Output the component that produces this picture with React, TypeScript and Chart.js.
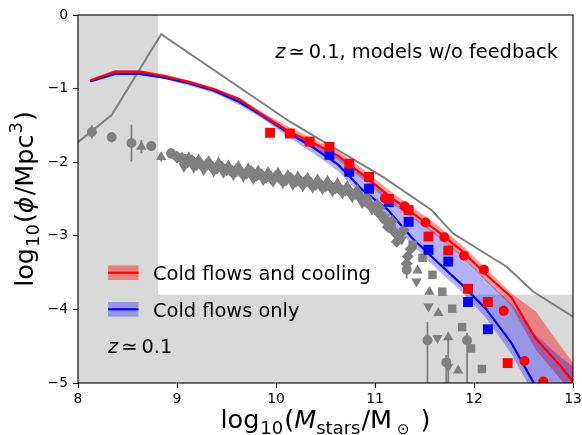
import React, { useEffect, useRef } from 'react';
import { Chart, registerables } from 'chart.js';

Chart.register(...registerables);

const FONT = "'DejaVu Sans', 'Liberation Sans', sans-serif";

// axis ticks
const xTicks = [8, 9, 10, 11, 12, 13];
const yTicks = [0, -1, -2, -3, -4, -5];

// shaded (incomplete) regions
const shadeMassLimit = 8.81;
const shadePhiLimit = -3.8;

// model bins
const binMass = [8.125, 8.375, 8.625, 8.875, 9.125, 9.375, 9.625, 9.875, 10.125, 10.375, 10.625, 10.875, 11.125, 11.375, 11.625, 11.875, 12.125, 12.375, 12.625, 12.875, 13.125];

// Cold flows and cooling (red)
const coolLine = [-0.89, -0.77, -0.77, -0.83, -0.91, -1.01, -1.14, -1.37, -1.58, -1.74, -1.91, -2.17, -2.44, -2.69, -2.93, -3.20, -3.53, -3.83, -4.40, -4.77, -5.20];
const coolHi = [-0.87, -0.75, -0.75, -0.81, -0.89, -0.99, -1.12, -1.33, -1.52, -1.68, -1.85, -2.09, -2.36, -2.61, -2.85, -3.12, -3.45, -3.78, -4.03, -4.50, -4.95];
const coolLo = [-0.91, -0.79, -0.79, -0.85, -0.93, -1.03, -1.17, -1.41, -1.63, -1.80, -1.97, -2.23, -2.52, -2.76, -3.00, -3.28, -3.62, -3.95, -4.55, -4.95, -5.40];

// Cold flows only (blue)
const onlyLine = [-0.90, -0.80, -0.80, -0.85, -0.93, -1.03, -1.18, -1.38, -1.60, -1.80, -2.03, -2.38, -2.64, -3.03, -3.35, -3.66, -4.00, -4.45, -5.05];
const onlyHi = [-0.88, -0.78, -0.78, -0.83, -0.91, -1.01, -1.15, -1.34, -1.56, -1.75, -1.92, -2.18, -2.47, -2.73, -2.98, -3.26, -3.60, -3.92, -4.35, -4.65, -4.90];
const onlyLo = [-0.92, -0.82, -0.82, -0.87, -0.96, -1.06, -1.22, -1.42, -1.66, -1.88, -2.12, -2.46, -2.74, -3.12, -3.45, -3.76, -4.12, -4.60, -5.20, -5.70, -6.20];

// model without feedback (gray line)
const noFbMass = [7.84, 8.34, 8.84, 10.14, 11.08, 11.57, 11.79, 12.33, 12.60, 13.0];
const noFbPhi = [-1.90, -1.36, -0.26, -1.45, -2.20, -2.65, -2.97, -3.42, -3.76, -4.10];

// model points
const redSqMass = [9.94, 10.14, 10.34, 10.54, 10.74, 10.94, 11.14, 11.34, 11.54, 11.74, 11.94, 12.14, 12.34];
const redSqPhi = [-1.60, -1.61, -1.72, -1.79, -2.02, -2.20, -2.50, -2.65, -3.01, -3.20, -3.72, -3.90, -4.73];
const blueSqMass = [10.54, 10.74, 10.94, 11.14, 11.34, 11.54, 11.74, 11.94, 12.14];
const blueSqPhi = [-1.90, -2.13, -2.36, -2.54, -2.81, -3.19, -3.35, -3.90, -4.27];
const redCircMass = [11.10, 11.30, 11.51, 11.70, 11.90, 12.10, 12.30, 12.51, 12.70];
const redCircPhi = [-2.49, -2.60, -2.82, -3.02, -3.27, -3.46, -4.02, -4.70, -4.98];

// observations: dense band
const bandDiaMass = [9.00, 9.05, 9.10, 9.15, 9.20, 9.25, 9.30, 9.35, 9.40, 9.45, 9.50, 9.55, 9.60, 9.65, 9.70, 9.75, 9.80, 9.85, 9.90, 9.95, 10.00, 10.05, 10.10, 10.15, 10.20, 10.25, 10.30, 10.35, 10.40, 10.45, 10.50, 10.55, 10.60, 10.65, 10.70, 10.75, 10.80, 10.85, 10.90, 10.95, 11.00, 11.05, 11.10, 11.15, 11.20];
const bandDiaPhi = [-1.93, -1.95, -2.00, -1.98, -2.02, -2.04, -2.03, -2.06, -2.08, -2.07, -2.10, -2.12, -2.11, -2.14, -2.15, -2.13, -2.18, -2.17, -2.20, -2.21, -2.19, -2.23, -2.24, -2.22, -2.26, -2.27, -2.26, -2.29, -2.30, -2.31, -2.32, -2.33, -2.35, -2.37, -2.38, -2.41, -2.43, -2.47, -2.52, -2.58, -2.62, -2.70, -2.78, -2.87, -2.95];
const bandDiaErr = [0.08, 0.06, 0.07, 0.05, 0.09, 0.06, 0.07, 0.05, 0.08, 0.06, 0.07, 0.05, 0.09, 0.06, 0.07, 0.08, 0.05, 0.07, 0.06, 0.09, 0.05, 0.07, 0.06, 0.08, 0.05, 0.07, 0.06, 0.09, 0.05, 0.07, 0.06, 0.08, 0.05, 0.07, 0.06, 0.09, 0.07, 0.06, 0.08, 0.07, 0.09, 0.08, 0.10, 0.09, 0.11];
const bandTriMass = [9.12, 9.22, 9.32, 9.42, 9.52, 9.62, 9.72, 9.82, 9.92, 10.02, 10.12, 10.22, 10.32, 10.42, 10.52, 10.62, 10.72, 10.82, 10.92, 11.02];
const bandTriPhi = [-1.94, -1.97, -1.99, -2.01, -2.05, -2.06, -2.09, -2.12, -2.14, -2.15, -2.18, -2.20, -2.22, -2.24, -2.26, -2.29, -2.33, -2.38, -2.46, -2.57];
const bandDownMass = [9.07, 9.17, 9.27, 9.37, 9.47, 9.57, 9.67, 9.77, 9.87, 9.97, 10.07, 10.17, 10.27, 10.37, 10.47, 10.57, 10.67, 10.77, 10.87, 10.97, 11.07];
const bandDownPhi = [-2.06, -2.07, -2.10, -2.12, -2.14, -2.17, -2.19, -2.22, -2.24, -2.26, -2.28, -2.30, -2.32, -2.34, -2.36, -2.39, -2.42, -2.47, -2.55, -2.64, -2.75];

// observations: sparse points with error bars
const obsCircMass = [8.14, 8.34, 8.54, 8.74, 8.94, 11.32, 11.53, 11.93, 11.72];
const obsCircPhi = [-1.59, -1.66, -1.74, -1.78, -1.88, -3.46, -4.42, -4.42, -4.72];
const obsCircLo = [-1.68, -1.73, -1.99, -1.85, -1.95, -3.58, -5.0, -5.0, -5.0];
const obsCircHi = [-1.50, -1.59, -1.49, -1.71, -1.81, -3.36, -4.17, -4.32, -4.62];
const obsTriMass = [8.64, 8.84, 11.43, 11.55, 11.64, 11.74, 11.84];
const obsTriPhi = [-1.79, -1.93, -3.47, -3.76, -4.05, -4.38, -4.83];
const obsTriLo = [-1.88, -1.99, null, null, null, -5.0, null];
const obsTriHi = [-1.70, -1.87, null, null, null, -4.32, null];
const obsDownMass = [9.05, 11.10, 11.15, 11.20, 11.27, 11.42, 11.54, 11.63, 11.74];
const obsDownPhi = [-1.93, -2.75, -2.86, -2.95, -3.05, -3.62, -3.96, -4.39, -4.78];
const obsDiaMass = [11.05, 11.13, 11.17, 11.22, 11.26, 11.29, 11.33, 11.32, 11.36];
const obsDiaPhi = [-2.62, -2.88, -2.80, -3.08, -2.97, -2.92, -3.28, -3.38, -3.18];
const obsSqMass = [11.38, 11.48, 11.58, 11.68, 11.78, 11.88, 11.97, 12.08];
const obsSqPhi = [-3.12, -3.30, -3.53, -3.76, -3.99, -4.24, -4.53, -4.81];

const GRAY = 'rgb(128,128,128)';
const RED = 'rgb(255,0,0)';
const BLUE = 'rgb(0,0,255)';
const RED_FILL = 'rgba(255,0,0,0.4)';
const BLUE_FILL = 'rgba(0,0,255,0.3)';

const zip = (xs: number[], ys: number[]) => ys.map((y, i) => ({ x: xs[i], y }));

type Part = { t: string; size: number; italic?: boolean; dy?: number; gap?: number };

function drawParts(ctx: CanvasRenderingContext2D, parts: Part[], x: number, y: number, align: 'left' | 'center' | 'right') {
  const fontOf = (p: Part) => `${p.italic ? 'italic ' : ''}${p.size}px ${FONT}`;
  const widths = parts.map((p) => {
    ctx.font = fontOf(p);
    return ctx.measureText(p.t).width;
  });
  const total = widths.reduce((a, b) => a + b, 0) + parts.reduce((a, p) => a + (p.gap || 0), 0);
  let cx = align === 'left' ? x : align === 'center' ? x - total / 2 : x - total;
  ctx.textBaseline = 'alphabetic';
  ctx.textAlign = 'left';
  parts.forEach((p, i) => {
    cx += p.gap || 0;
    ctx.font = fontOf(p);
    ctx.fillText(p.t, cx, y + (p.dy || 0));
    cx += widths[i];
  });
}

const shadePlugin = {
  id: 'shade',
  beforeDatasetsDraw(chart: any) {
    const { ctx, chartArea, scales } = chart;
    const xs = scales.x;
    const ys = scales.y;
    ctx.save();
    ctx.fillStyle = '#d9d9d9';
    const xr = xs.getPixelForValue(shadeMassLimit);
    ctx.fillRect(chartArea.left, chartArea.top, xr - chartArea.left, chartArea.bottom - chartArea.top);
    const yt = ys.getPixelForValue(shadePhiLimit);
    ctx.fillRect(chartArea.left, yt, chartArea.right - chartArea.left, chartArea.bottom - yt);
    ctx.restore();
  },
};

const errorBarPlugin = {
  id: 'errbars',
  beforeDatasetDraw(chart: any, args: any) {
    const ds = chart.data.datasets[args.index];
    if (!ds.errLo) return;
    const { ctx, chartArea, scales } = chart;
    ctx.save();
    ctx.beginPath();
    ctx.rect(chartArea.left, chartArea.top, chartArea.right - chartArea.left, chartArea.bottom - chartArea.top);
    ctx.clip();
    ctx.strokeStyle = ds.backgroundColor;
    ctx.lineWidth = 1.8;
    ds.data.forEach((p: any, i: number) => {
      const lo = ds.errLo[i];
      const hi = ds.errHi[i];
      if (lo == null || hi == null) return;
      const px = scales.x.getPixelForValue(p.x);
      ctx.beginPath();
      ctx.moveTo(px, scales.y.getPixelForValue(lo));
      ctx.lineTo(px, scales.y.getPixelForValue(hi));
      ctx.stroke();
    });
    ctx.restore();
  },
};

const decorPlugin = {
  id: 'decor',
  afterDatasetsDraw(chart: any) {
    const { ctx, chartArea } = chart;
    ctx.save();
    // frame
    ctx.strokeStyle = '#000';
    ctx.lineWidth = 1.1;
    ctx.strokeRect(chartArea.left, chartArea.top, chartArea.right - chartArea.left, chartArea.bottom - chartArea.top);

    ctx.fillStyle = '#000';
    // annotation top right
    drawParts(ctx, [
      { t: 'z', size: 19.4, italic: true },
      { t: '\u2243', size: 19.4, gap: 3 },
      { t: '0.1, models w/o feedback', size: 19.4, gap: 4 },
    ], 558, 58, 'right');
    // bottom-left label
    drawParts(ctx, [
      { t: 'z', size: 19.4, italic: true },
      { t: '\u2243', size: 19.4, gap: 3 },
      { t: '0.1', size: 19.4, gap: 4 },
    ], 108, 353, 'left');

    // legend
    const entries = [
      { label: 'Cold flows and cooling', fill: RED_FILL, line: RED, cy: 272.7 },
      { label: 'Cold flows only', fill: BLUE_FILL, line: BLUE, cy: 309.3 },
    ];
    entries.forEach((e) => {
      ctx.fillStyle = e.fill;
      ctx.fillRect(108, e.cy - 7.3, 30.5, 14.6);
      ctx.strokeStyle = e.line;
      ctx.lineWidth = 2.2;
      ctx.beginPath();
      ctx.moveTo(108, e.cy);
      ctx.lineTo(138.5, e.cy);
      ctx.stroke();
      ctx.fillStyle = '#000';
      drawParts(ctx, [{ t: e.label, size: 19.4 }], 153, e.cy + 7.3, 'left');
    });

    // x axis title
    ctx.fillStyle = '#000';
    const cxTitle = (chartArea.left + chartArea.right) / 2;
    drawParts(ctx, [
      { t: 'log', size: 25.5 },
      { t: '10', size: 18, dy: 6, gap: 1 },
      { t: '(', size: 25.5, gap: 1 },
      { t: 'M', size: 25.5, italic: true },
      { t: 'stars', size: 18, dy: 6 },
      { t: '/M', size: 25.5, gap: 1 },
      { t: '\u2299', size: 15, dy: 6, gap: 5 },
      { t: ')', size: 25.5, gap: 11 },
    ], cxTitle, 428, 'center');

    // y axis title
    ctx.save();
    ctx.translate(33, (chartArea.top + chartArea.bottom) / 2);
    ctx.rotate(-Math.PI / 2);
    drawParts(ctx, [
      { t: 'log', size: 25.5 },
      { t: '10', size: 18, dy: 6, gap: 1 },
      { t: '(', size: 25.5, gap: 1 },
      { t: '\u03D5', size: 25.5, italic: true },
      { t: '/Mpc', size: 25.5, gap: 1 },
      { t: '3', size: 18, dy: -11, gap: 1 },
      { t: ')', size: 25.5, gap: 1 },
    ], 0, 0, 'center');
    ctx.restore();

    ctx.restore();
  },
};

function lineDs(xs: number[], ys: number[], color: string, width: number, order: number) {
  return {
    data: zip(xs, ys),
    showLine: true,
    borderColor: color,
    backgroundColor: color,
    borderWidth: width,
    pointRadius: 0,
    tension: 0,
    fill: false,
    order,
  };
}

function bandDs(xs: number[], hi: number[], lo: number[], fillColor: string, order: number) {
  return [
    {
      data: zip(xs, hi),
      showLine: true,
      borderColor: 'rgba(0,0,0,0)',
      backgroundColor: fillColor,
      borderWidth: 0,
      pointRadius: 0,
      tension: 0,
      fill: '+1',
      order,
    },
    {
      data: zip(xs, lo),
      showLine: true,
      borderColor: 'rgba(0,0,0,0)',
      backgroundColor: 'rgba(0,0,0,0)',
      borderWidth: 0,
      pointRadius: 0,
      tension: 0,
      fill: false,
      order,
    },
  ];
}

function markerDs(xs: number[], ys: number[], color: string, style: string, radius: number, order: number, extra: any = {}) {
  return {
    data: zip(xs, ys),
    showLine: false,
    pointStyle: style,
    pointRadius: radius,
    pointBackgroundColor: color,
    pointBorderColor: color,
    pointBorderWidth: 0,
    backgroundColor: color,
    borderColor: color,
    order,
    ...extra,
  };
}

export default function App() {
  const canvasRef = useRef<HTMLCanvasElement | null>(null);

  useEffect(() => {
    const canvas = canvasRef.current;
    if (!canvas) return;
    const bandLo = bandDiaPhi.map((y, i) => y - bandDiaErr[i]);
    const bandHi = bandDiaPhi.map((y, i) => y + bandDiaErr[i]);
    const datasets: any[] = [
      ...bandDs(binMass, coolHi, coolLo, RED_FILL, 20),
      ...bandDs(binMass, onlyHi, onlyLo, BLUE_FILL, 19),
      lineDs(noFbMass, noFbPhi, GRAY, 2, 15),
      lineDs(binMass.slice(0, onlyLine.length), onlyLine, BLUE, 2.2, 14),
      lineDs(binMass, coolLine, RED, 2.2, 13),
      markerDs(bandDiaMass, bandDiaPhi, GRAY, 'rectRot', 6.5, 10, { errLo: bandLo, errHi: bandHi }),
      markerDs(bandTriMass, bandTriPhi, GRAY, 'triangle', 6.5, 10),
      markerDs(bandDownMass, bandDownPhi, GRAY, 'triangle', 6.5, 10, { pointRotation: 180 }),
      markerDs(obsCircMass, obsCircPhi, GRAY, 'circle', 5, 9, { errLo: obsCircLo, errHi: obsCircHi }),
      markerDs(obsTriMass, obsTriPhi, GRAY, 'triangle', 6, 9, { errLo: obsTriLo, errHi: obsTriHi }),
      markerDs(obsDownMass, obsDownPhi, GRAY, 'triangle', 6, 9, { pointRotation: 180 }),
      markerDs(obsDiaMass, obsDiaPhi, GRAY, 'rectRot', 6, 9),
      markerDs(obsSqMass, obsSqPhi, GRAY, 'rect', 6, 9),
      markerDs(blueSqMass, blueSqPhi, BLUE, 'rect', 7, 3),
      markerDs(redSqMass, redSqPhi, RED, 'rect', 7, 2),
      markerDs(redCircMass, redCircPhi, RED, 'circle', 5, 1),
    ];

    const tickFont = { family: FONT, size: 13.9 };
    const fmt = (v: number) => (v < 0 ? '\u2212' + Math.abs(v) : String(v));

    const chart = new Chart(canvas, {
      type: 'scatter',
      data: { datasets },
      options: {
        responsive: false,
        animation: false,
        events: [],
        layout: { padding: { top: 15, right: 9, left: 0, bottom: 0 } },
        plugins: {
          legend: { display: false },
          tooltip: { enabled: false },
        },
        scales: {
          x: {
            type: 'linear',
            min: 8,
            max: 13,
            afterBuildTicks: (s: any) => {
              s.ticks = xTicks.map((v) => ({ value: v }));
            },
            afterFit: (s: any) => {
              s.height = 52;
              s.paddingLeft = 0;
              s.paddingRight = 0;
            },
            ticks: {
              color: '#000',
              font: tickFont,
              padding: 3,
              maxRotation: 0,
              autoSkip: false,
              callback: (v: any) => fmt(Number(v)),
            },
            grid: {
              drawOnChartArea: false,
              drawTicks: true,
              tickLength: 5,
              color: '#000',
              tickColor: '#000',
              tickWidth: 1.1,
            },
            border: { display: false },
          },
          y: {
            type: 'linear',
            min: -5,
            max: 0,
            afterBuildTicks: (s: any) => {
              s.ticks = yTicks.map((v) => ({ value: v }));
            },
            afterFit: (s: any) => {
              s.width = 78;
              s.paddingTop = 0;
              s.paddingBottom = 0;
            },
            ticks: {
              color: '#000',
              font: tickFont,
              padding: 5,
              autoSkip: false,
              callback: (v: any) => fmt(Number(v)),
            },
            grid: {
              drawOnChartArea: false,
              drawTicks: true,
              tickLength: 5,
              color: '#000',
              tickColor: '#000',
              tickWidth: 1.1,
            },
            border: { display: false },
          },
        },
      } as any,
      plugins: [shadePlugin, errorBarPlugin, decorPlugin],
    });

    return () => {
      chart.destroy();
    };
  }, []);

  return (
    <div style={{ position: 'fixed', left: 0, top: 0, width: 582, height: 435, background: '#fff' }}>
      <canvas ref={canvasRef} width={582} height={435} style={{ display: 'block', width: 582, height: 435 }} />
    </div>
  );
}
